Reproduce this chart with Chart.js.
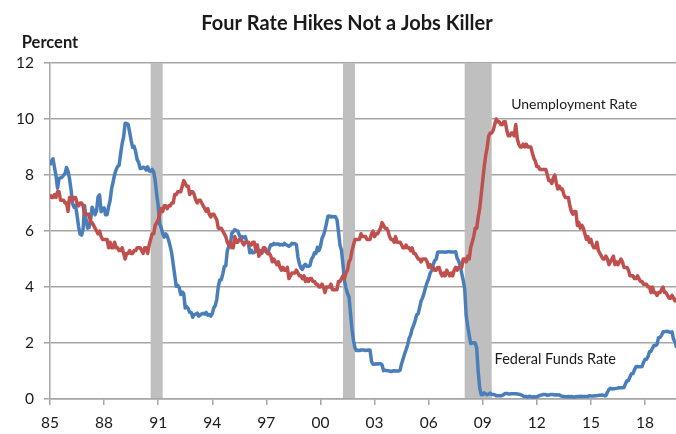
<!DOCTYPE html>
<html>
<head>
<meta charset="utf-8">
<script src="https://cdn.jsdelivr.net/npm/chart.js@4.4.1/dist/chart.umd.min.js"></script>
<style>
  html, body { margin: 0; padding: 0; background: #fff; }
</style>
</head>
<body>
<canvas id="rateChart" width="676" height="434"></canvas>
<script>
const chartTitle = "Four Rate Hikes Not a Jobs Killer";
const yAxisLabel = "Percent";
const seriesNames = ["Unemployment Rate", "Federal Funds Rate"];

// monthly values, starting Jan 1985
const startYear = 1985;
const tickYears = [1985, 1988, 1991, 1994, 1997, 2000, 2003, 2006, 2009, 2012, 2015, 2018];
const yTicks = [0, 2, 4, 6, 8, 10, 12];

// recessions (decimal years)
const recessionStarts = [1990.583, 2001.25, 2008.0];
const recessionEnds = [1991.25, 2001.917, 2009.5];

const unemployment = [
  7.3, 7.2, 7.2, 7.3, 7.2, 7.4, 7.4, 7.1, 7.1, 7.1, 7.0, 7.0, // 85
  6.7, 7.2, 7.2, 7.1, 7.2, 7.2, 7.0, 6.9, 7.0, 7.0, 6.9, 6.6,
  6.6, 6.6, 6.6, 6.3, 6.3, 6.2, 6.1, 6.0, 5.9, 6.0, 5.8, 5.7,
  5.7, 5.7, 5.7, 5.4, 5.6, 5.4, 5.4, 5.6, 5.4, 5.4, 5.3, 5.3,
  5.4, 5.2, 5.0, 5.2, 5.2, 5.3, 5.2, 5.2, 5.3, 5.3, 5.4, 5.4,
  5.4, 5.3, 5.2, 5.4, 5.4, 5.2, 5.5, 5.7, 5.9, 5.9, 6.2, 6.3, // 90
  6.4, 6.6, 6.8, 6.7, 6.9, 6.9, 6.8, 6.9, 6.9, 7.0, 7.0, 7.3,
  7.3, 7.4, 7.4, 7.4, 7.6, 7.8, 7.7, 7.6, 7.6, 7.3, 7.4, 7.4,
  7.3, 7.1, 7.0, 7.1, 7.1, 7.0, 6.9, 6.8, 6.7, 6.8, 6.6, 6.5,
  6.6, 6.6, 6.5, 6.4, 6.1, 6.1, 6.1, 6.0, 5.9, 5.8, 5.6, 5.5,
  5.6, 5.4, 5.4, 5.8, 5.6, 5.6, 5.7, 5.7, 5.6, 5.5, 5.6, 5.6, // 95
  5.6, 5.5, 5.5, 5.6, 5.6, 5.3, 5.5, 5.1, 5.2, 5.2, 5.4, 5.4,
  5.3, 5.2, 5.2, 5.1, 4.9, 5.0, 4.9, 4.8, 4.9, 4.7, 4.6, 4.7,
  4.6, 4.6, 4.7, 4.3, 4.4, 4.5, 4.5, 4.5, 4.6, 4.5, 4.4, 4.4,
  4.3, 4.4, 4.2, 4.3, 4.2, 4.3, 4.3, 4.2, 4.2, 4.1, 4.1, 4.0,
  4.0, 4.1, 4.0, 3.8, 4.0, 4.0, 4.0, 4.1, 3.9, 3.9, 3.9, 3.9, // 00
  4.2, 4.2, 4.3, 4.4, 4.3, 4.5, 4.6, 4.9, 5.0, 5.3, 5.5, 5.7,
  5.7, 5.7, 5.7, 5.9, 5.8, 5.8, 5.8, 5.7, 5.7, 5.7, 5.9, 6.0,
  5.8, 5.9, 5.9, 6.0, 6.1, 6.3, 6.2, 6.1, 6.1, 6.0, 5.8, 5.7,
  5.7, 5.6, 5.8, 5.6, 5.6, 5.6, 5.5, 5.4, 5.4, 5.5, 5.4, 5.4,
  5.3, 5.4, 5.2, 5.2, 5.1, 5.0, 5.0, 4.9, 5.0, 5.0, 5.0, 4.9, // 05
  4.7, 4.8, 4.7, 4.7, 4.6, 4.6, 4.7, 4.7, 4.5, 4.4, 4.5, 4.4,
  4.6, 4.5, 4.4, 4.5, 4.4, 4.6, 4.7, 4.6, 4.7, 4.7, 4.7, 5.0,
  5.0, 4.9, 5.1, 5.0, 5.4, 5.6, 5.8, 6.1, 6.1, 6.5, 6.8, 7.3,
  7.8, 8.3, 8.7, 9.0, 9.4, 9.5, 9.5, 9.6, 9.8, 10.0, 9.9, 9.9,
  9.8, 9.8, 9.9, 9.9, 9.6, 9.4, 9.4, 9.5, 9.5, 9.4, 9.8, 9.3, // 10
  9.1, 9.0, 9.0, 9.1, 9.0, 9.1, 9.0, 9.0, 9.0, 8.8, 8.6, 8.5,
  8.3, 8.3, 8.2, 8.2, 8.2, 8.2, 8.2, 8.0, 7.8, 7.8, 7.7, 7.9,
  8.0, 7.7, 7.5, 7.6, 7.5, 7.5, 7.3, 7.2, 7.2, 7.2, 6.9, 6.7,
  6.6, 6.7, 6.7, 6.2, 6.3, 6.1, 6.2, 6.1, 5.9, 5.7, 5.8, 5.6,
  5.7, 5.5, 5.4, 5.4, 5.6, 5.3, 5.2, 5.1, 5.0, 5.0, 5.1, 5.0, // 15
  4.8, 4.9, 5.0, 5.1, 4.8, 4.9, 4.8, 4.9, 5.0, 4.9, 4.7, 4.7,
  4.7, 4.6, 4.4, 4.4, 4.4, 4.3, 4.3, 4.4, 4.3, 4.2, 4.2, 4.1,
  4.1, 4.1, 4.0, 4.0, 3.8, 4.0, 3.8, 3.8, 3.7, 3.8, 3.8, 3.9,
  4.0, 3.8, 3.8, 3.7, 3.6, 3.6, 3.7, 3.6, 3.5, 3.6
];

const fedFunds = [
  8.35, 8.50, 8.58, 8.27, 7.97, 7.53, 7.88, 7.90, 7.92, 7.99, 8.05, 8.27, // 85
  8.14, 7.86, 7.48, 6.99, 6.85, 6.92, 6.56, 6.17, 5.89, 5.85, 6.04, 6.91,
  6.43, 6.10, 6.13, 6.37, 6.85, 6.73, 6.58, 6.73, 7.22, 7.29, 6.69, 6.77,
  6.83, 6.58, 6.58, 6.87, 7.09, 7.51, 7.75, 8.01, 8.19, 8.30, 8.35, 8.76,
  9.12, 9.36, 9.85, 9.84, 9.81, 9.53, 9.24, 8.99, 9.02, 8.84, 8.55, 8.45,
  8.23, 8.24, 8.28, 8.26, 8.18, 8.29, 8.15, 8.13, 8.20, 8.11, 7.81, 7.31, // 90
  6.91, 6.25, 6.12, 5.91, 5.78, 5.90, 5.82, 5.66, 5.45, 5.21, 4.81, 4.43,
  4.03, 4.06, 3.98, 3.73, 3.82, 3.76, 3.25, 3.30, 3.22, 3.10, 3.09, 2.92,
  3.02, 3.03, 3.07, 2.96, 3.00, 3.04, 3.06, 3.03, 3.09, 2.99, 3.02, 2.96,
  3.05, 3.25, 3.34, 3.56, 4.01, 4.25, 4.26, 4.47, 4.73, 4.76, 5.29, 5.45,
  5.53, 5.92, 5.98, 6.05, 6.01, 6.00, 5.85, 5.74, 5.80, 5.76, 5.80, 5.60, // 95
  5.56, 5.22, 5.31, 5.22, 5.24, 5.27, 5.40, 5.22, 5.30, 5.24, 5.31, 5.29,
  5.25, 5.19, 5.39, 5.51, 5.50, 5.56, 5.52, 5.54, 5.54, 5.50, 5.52, 5.50,
  5.56, 5.51, 5.49, 5.45, 5.49, 5.56, 5.54, 5.55, 5.51, 5.07, 4.83, 4.68,
  4.63, 4.76, 4.81, 4.74, 4.74, 4.76, 4.99, 5.07, 5.22, 5.20, 5.42, 5.30,
  5.45, 5.73, 5.85, 6.02, 6.27, 6.53, 6.54, 6.50, 6.52, 6.51, 6.51, 6.40, // 00
  5.98, 5.49, 5.31, 4.80, 4.21, 3.97, 3.77, 3.65, 3.07, 2.49, 2.09, 1.82,
  1.73, 1.74, 1.73, 1.75, 1.75, 1.75, 1.73, 1.74, 1.75, 1.75, 1.34, 1.24,
  1.24, 1.26, 1.25, 1.26, 1.26, 1.22, 1.01, 1.03, 1.01, 1.01, 1.00, 0.98,
  1.00, 1.01, 1.00, 1.00, 1.00, 1.03, 1.26, 1.43, 1.61, 1.76, 1.93, 2.16,
  2.28, 2.50, 2.63, 2.79, 3.00, 3.04, 3.26, 3.50, 3.62, 3.78, 4.00, 4.16, // 05
  4.29, 4.49, 4.59, 4.79, 4.94, 4.99, 5.24, 5.25, 5.25, 5.25, 5.25, 5.24,
  5.25, 5.26, 5.26, 5.25, 5.25, 5.25, 5.26, 5.02, 4.94, 4.76, 4.49, 4.24,
  3.94, 2.98, 2.61, 2.28, 1.98, 2.00, 2.01, 2.00, 1.81, 0.97, 0.39, 0.16,
  0.15, 0.22, 0.18, 0.15, 0.18, 0.21, 0.16, 0.16, 0.15, 0.12, 0.12, 0.12,
  0.11, 0.13, 0.16, 0.20, 0.20, 0.18, 0.18, 0.19, 0.19, 0.19, 0.19, 0.18, // 10
  0.17, 0.16, 0.14, 0.10, 0.09, 0.09, 0.07, 0.10, 0.08, 0.07, 0.08, 0.07,
  0.08, 0.10, 0.13, 0.14, 0.16, 0.16, 0.16, 0.13, 0.14, 0.16, 0.16, 0.16,
  0.14, 0.15, 0.14, 0.15, 0.11, 0.09, 0.09, 0.08, 0.08, 0.09, 0.08, 0.09,
  0.07, 0.07, 0.08, 0.09, 0.09, 0.10, 0.09, 0.09, 0.09, 0.09, 0.09, 0.12,
  0.11, 0.11, 0.11, 0.12, 0.12, 0.13, 0.13, 0.14, 0.14, 0.12, 0.12, 0.24, // 15
  0.34, 0.38, 0.36, 0.37, 0.37, 0.38, 0.39, 0.40, 0.40, 0.40, 0.41, 0.54,
  0.65, 0.66, 0.79, 0.90, 0.91, 1.04, 1.15, 1.16, 1.15, 1.15, 1.16, 1.30,
  1.41, 1.42, 1.51, 1.69, 1.70, 1.82, 1.91, 1.91, 1.95, 2.19, 2.20, 2.27,
  2.40, 2.40, 2.41, 2.42, 2.39, 2.38, 2.40, 2.13, 2.04, 1.83
];

function toPoints(values) {
  return values.map((v, i) => ({ x: startYear + i / 12, y: v }));
}

const gridColor = "#a6a6a6";
const textColor = "#1a1a1a";

// grey recession columns, drawn over the gridlines but under the lines
const recessionBands = {
  id: "recessionBands",
  beforeDatasetsDraw(chart) {
    const { ctx, chartArea, scales } = chart;
    ctx.save();
    ctx.fillStyle = "#bfbfbf";
    recessionStarts.forEach((s, i) => {
      const x1 = scales.x.getPixelForValue(s);
      const x2 = scales.x.getPixelForValue(recessionEnds[i]);
      ctx.fillRect(x1, chartArea.top, x2 - x1, chartArea.bottom - chartArea.top - 1);
    });
    ctx.restore();
  }
};

// title, axis caption and series labels
const chartText = {
  id: "chartText",
  afterDraw(chart) {
    const { ctx, scales } = chart;
    ctx.save();
    ctx.fillStyle = textColor;
    ctx.textBaseline = "middle";
    ctx.textAlign = "center";
    ctx.font = "bold 20px Lato";
    ctx.fillText(chartTitle, 347, 24);
    ctx.font = "bold 16.5px Lato";
    ctx.fillText(yAxisLabel, 50, 43);

    ctx.textAlign = "left";
    ctx.font = "14px Lato";
    ctx.fillText(seriesNames[0], scales.x.getPixelForValue(2010.58), scales.y.getPixelForValue(10.53));
    ctx.font = "14.5px Lato";
    ctx.fillText(seriesNames[1], scales.x.getPixelForValue(2009.66), scales.y.getPixelForValue(1.43));
    ctx.restore();
  }
};

new Chart(document.getElementById("rateChart"), {
  type: "line",
  data: {
    datasets: [
      {
        label: seriesNames[0],
        data: toPoints(unemployment),
        borderColor: "#c0504d",
        borderWidth: 3.5,
        pointRadius: 0,
        tension: 0,
        borderJoinStyle: "round",
        order: 1
      },
      {
        label: seriesNames[1],
        data: toPoints(fedFunds),
        borderColor: "#4a7ebb",
        borderWidth: 3.5,
        pointRadius: 0,
        tension: 0,
        borderJoinStyle: "round",
        order: 2
      }
    ]
  },
  options: {
    responsive: false,
    animation: false,
    layout: { padding: { top: 63, right: 0, bottom: 0, left: 0 } },
    plugins: {
      legend: { display: false },
      tooltip: { enabled: false }
    },
    scales: {
      x: {
        type: "linear",
        min: 1985,
        max: 2019.72,
        afterBuildTicks(scale) {
          scale.ticks = tickYears.map(v => ({ value: v }));
        },
        ticks: {
          autoSkip: false,
          maxRotation: 0,
          padding: 9,
          color: textColor,
          font: { family: "Lato", size: 15.5 },
          callback: v => String(v % 100).padStart(2, "0")
        },
        grid: { drawOnChartArea: false, drawTicks: true, tickLength: 6, color: gridColor, lineWidth: 1.5 },
        border: { display: true, color: gridColor, width: 1.5 },
        afterFit(scale) { scale.height = 35; }
      },
      y: {
        min: 0,
        max: 12,
        afterBuildTicks(scale) {
          scale.ticks = yTicks.map(v => ({ value: v }));
        },
        ticks: {
          padding: 10,
          color: textColor,
          font: { family: "Lato", size: 15.5 }
        },
        grid: { color: gridColor, lineWidth: 1.5, drawTicks: true, tickLength: 6 },
        border: { display: true, color: gridColor, width: 1.5 },
        afterFit(scale) { scale.width = 50; }
      }
    }
  },
  plugins: [recessionBands, chartText]
});
</script>
</body>
</html>
